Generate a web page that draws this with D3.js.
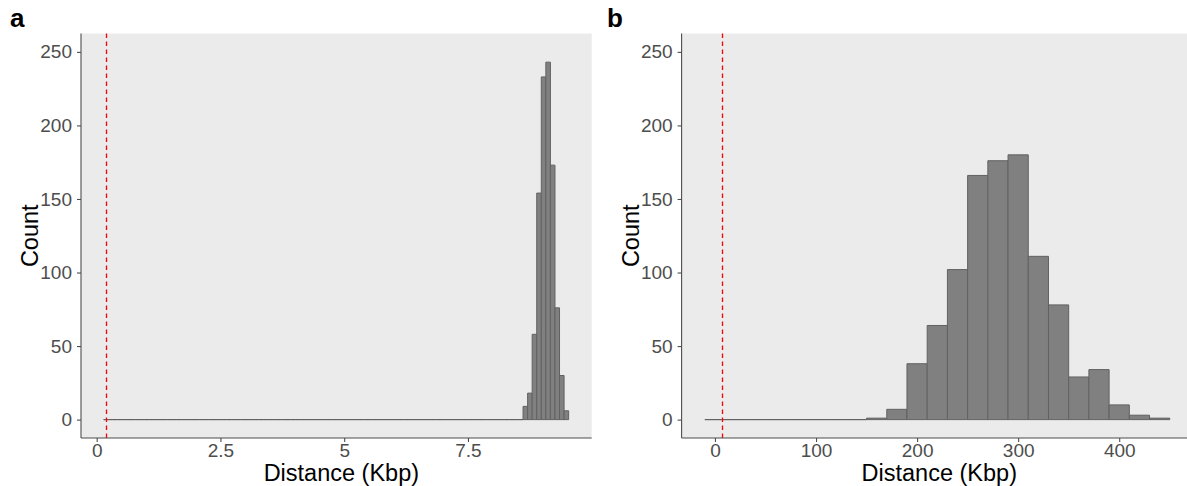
<!DOCTYPE html>
<html>
<head>
<meta charset="utf-8">
<script src="https://cdn.jsdelivr.net/npm/d3@7"></script>
<style>
  html, body { margin: 0; padding: 0; background: #ffffff; }
  svg { display: block; font-family: "Liberation Sans", Arial, Helvetica, sans-serif; }
  .axis path, .axis line { stroke: #4d4d4d; stroke-width: 1.1; }
  .axis text { fill: #4d4d4d; font-size: 19px; }
</style>
</head>
<body>
<svg id="chart" width="1187" height="486"></svg>
<script>
// --- DATA ---
// panel a: histogram of distances (Kbp), bins of equal width starting at aBinStart
const aBinStart = 0.14;
const aBinWidth = 0.0921;
const aCounts = [
    0, 0, 0, 0, 0, 0, 0, 0, 0, 0, 0, 0, 0, 0, 0, 0, 0, 0, 0, 0, 0, 0, 0,
    0, 0, 0, 0, 0, 0, 0, 0, 0, 0, 0, 0, 0, 0, 0, 0, 0, 0, 0, 0, 0, 0, 0,
    0, 0, 0, 0, 0, 0, 0, 0, 0, 0, 0, 0, 0, 0, 0, 0, 0, 0, 0, 0, 0, 0, 0,
    0, 0, 0, 0, 0, 0, 0, 0, 0, 0, 0, 0, 0, 0, 0, 0, 0, 0, 0, 0, 0, 0, 0,
    9, 18, 58, 154, 233, 243, 173, 76, 30, 6
];
const aCutoff = 0.18;
const aTicks = [0, 2.5, 5, 7.5];
const aTickLabels = ["0", "2.5", "5", "7.5"];

// panel b: histogram of distances (Kbp), 20 Kbp bins
const bBinStart = -10;
const bBinWidth = 20;
const bCounts = [0, 0, 0, 0, 0, 0, 0, 0, 1, 7, 38, 64, 102, 166, 176, 180, 111, 78, 29, 34, 10, 3, 1];
const bCutoff = 7;
const bTicks = [0, 100, 200, 300, 400];
const bTickLabels = ["0", "100", "200", "300", "400"];

const yTicks = [0, 50, 100, 150, 200, 250];
const yTickLabels = ["0", "50", "100", "150", "200", "250"];

const xTitle = "Distance (Kbp)";
const yTitle = "Count";

// --- LAYOUT ---
const svg = d3.select("#chart");
const panelTop = 33.5, panelBottom = 438;

const yScale = d3.scaleLinear()
    .domain([-12.5, 262.5])
    .range([panelBottom, panelTop]);

function drawPanel(opts) {
    const g = svg.append("g");

    const xScale = d3.scaleLinear()
        .domain(opts.xDomain)
        .range([opts.left, opts.right]);

    // grey panel background
    g.append("rect")
        .attr("x", opts.left)
        .attr("y", panelTop)
        .attr("width", opts.right - opts.left)
        .attr("height", panelBottom - panelTop)
        .attr("fill", "#ebebeb");

    // bars (zero-count bins become a flat outline)
    const bins = opts.counts.map((c, i) => ({
        x0: opts.binStart + i * opts.binWidth,
        x1: opts.binStart + (i + 1) * opts.binWidth,
        count: c
    }));

    g.selectAll(".bar")
        .data(bins)
        .enter()
        .append("path")
        .attr("class", "bar")
        .attr("d", d => {
            const x0 = xScale(d.x0), x1 = xScale(d.x1);
            const y0 = yScale(0), y1 = yScale(d.count);
            return `M${x0},${y0}V${y1}H${x1}V${y0}Z`;
        })
        .attr("fill", "#808080")
        .attr("stroke", "#616161")
        .attr("stroke-width", 1);

    // dashed cutoff line (snapped to a pixel centre so it stays bright red)
    const cx = Math.round(xScale(opts.cutoff)) + 0.5;
    g.append("line")
        .attr("x1", cx)
        .attr("x2", cx)
        .attr("y1", panelTop)
        .attr("y2", panelBottom)
        .attr("stroke", "#ff0000")
        .attr("stroke-width", 1.3)
        .attr("stroke-dasharray", "4.5,3.5");

    // axes
    const xAxis = d3.axisBottom(xScale)
        .tickValues(opts.ticks)
        .tickFormat((d, i) => opts.tickLabels[i])
        .tickSize(4)
        .tickSizeOuter(0)
        .tickPadding(2);

    const yAxis = d3.axisLeft(yScale)
        .tickValues(yTicks)
        .tickFormat((d, i) => yTickLabels[i])
        .tickSize(4)
        .tickSizeOuter(0)
        .tickPadding(5);

    g.append("g")
        .attr("class", "axis")
        .attr("transform", `translate(0, ${panelBottom})`)
        .call(xAxis)
        .call(a => a.select(".domain").attr("d", `M${opts.left},0H${opts.right}`));

    g.append("g")
        .attr("class", "axis")
        .attr("transform", `translate(${opts.left}, 0)`)
        .call(yAxis)
        .call(a => a.select(".domain").attr("d", `M0,${panelTop}V${panelBottom}`));

    // axis titles
    g.append("text")
        .attr("x", (opts.left + Math.min(opts.right, 1187)) / 2 + opts.titleShift)
        .attr("y", 481)
        .attr("text-anchor", "middle")
        .attr("font-size", 23.5)
        .attr("fill", "#000")
        .text(xTitle);

    g.append("text")
        .attr("transform", "rotate(-90)")
        .attr("x", -(panelTop + panelBottom) / 2)
        .attr("y", opts.left - 43)
        .attr("text-anchor", "middle")
        .attr("font-size", 23.5)
        .attr("fill", "#000")
        .text(yTitle);

    // panel tag
    svg.append("text")
        .attr("x", opts.tagX)
        .attr("y", 27)
        .attr("font-size", 26)
        .attr("font-weight", "bold")
        .attr("fill", "#000")
        .text(opts.tag);
}

drawPanel({
    tag: "a", tagX: 10,
    left: 81, right: 591.7, xDomain: [-0.317, 10.0],
    binStart: aBinStart, binWidth: aBinWidth, counts: aCounts,
    cutoff: aCutoff, ticks: aTicks, tickLabels: aTickLabels,
    titleShift: 5
});

drawPanel({
    tag: "b", tagX: 607,
    left: 681.6, right: 1193, xDomain: [-33, 473],
    binStart: bBinStart, binWidth: bBinWidth, counts: bCounts,
    cutoff: bCutoff, ticks: bTicks, tickLabels: bTickLabels,
    titleShift: 5
});
</script>
</body>
</html>
